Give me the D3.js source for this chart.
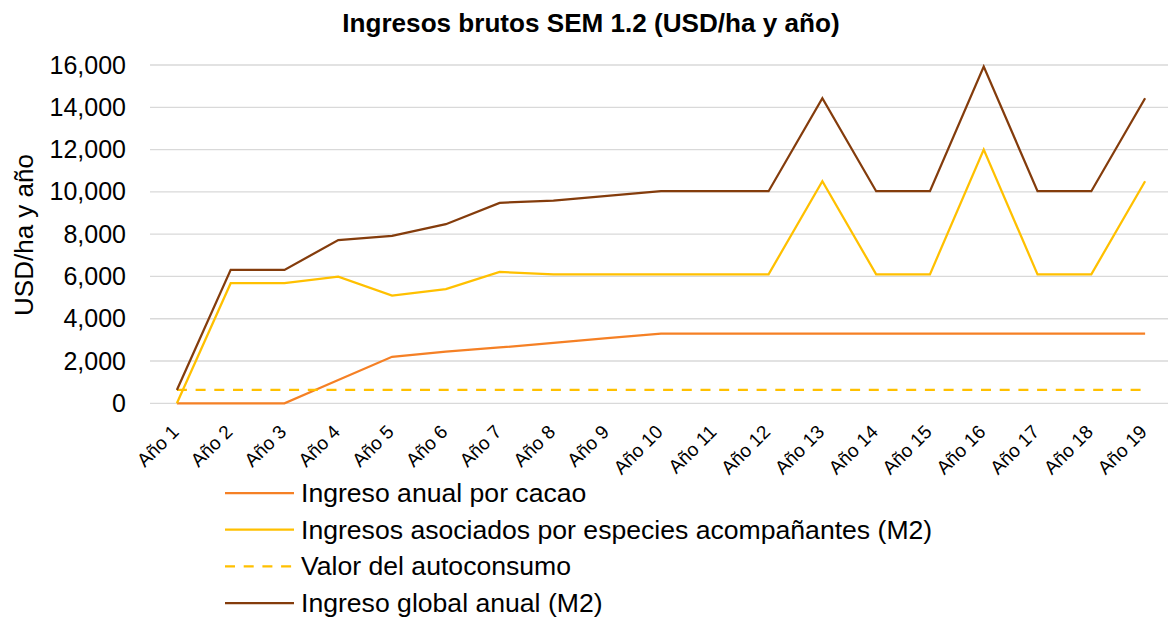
<!DOCTYPE html>
<html>
<head>
<meta charset="utf-8">
<script src="https://cdn.jsdelivr.net/npm/d3@7"></script>
<style>
  body { margin: 0; background: #fff; }
  text { font-family: Arial, "Liberation Sans", sans-serif; fill: #000; }
</style>
</head>
<body>
<svg id="chart" width="1168" height="618"></svg>
<script>
// datos
const years = ["Año 1","Año 2","Año 3","Año 4","Año 5","Año 6","Año 7","Año 8","Año 9","Año 10",
  "Año 11","Año 12","Año 13","Año 14","Año 15","Año 16","Año 17","Año 18","Año 19"];
const cacao = [0, 0, 0, 1100, 2200, 2440, 2640, 2860, 3080, 3300, 3300, 3300, 3300, 3300, 3300, 3300, 3300, 3300, 3300];
const especies = [0, 5680, 5680, 5990, 5090, 5400, 6210, 6100, 6100, 6100, 6100, 6100, 10500, 6100, 6100, 12000, 6100, 6100, 10500];
const autoconsumo = [630, 630, 630, 630, 630, 630, 630, 630, 630, 630, 630, 630, 630, 630, 630, 630, 630, 630, 630];
const global = [630, 6310, 6310, 7720, 7920, 8470, 9480, 9590, 9810, 10030, 10030, 10030, 14430, 10030, 10030, 15930, 10030, 10030, 14430];
const yTicks = [0, 2000, 4000, 6000, 8000, 10000, 12000, 14000, 16000];

const series = [
  { name: "Ingreso anual por cacao", values: cacao, color: "#F58025", dash: null },
  { name: "Ingresos asociados por especies acompañantes (M2)", values: especies, color: "#FFC000", dash: null },
  { name: "Valor del autoconsumo", values: autoconsumo, color: "#FFC000", dash: "10,8.7" },
  { name: "Ingreso global anual (M2)", values: global, color: "#843C0C", dash: null }
];

const svg = d3.select("#chart");

const x = d3.scalePoint().domain(years).range([150, 1172]).padding(0.5);
const y = d3.scaleLinear().domain([0, 16000]).range([403.3, 65]);

// titulo
svg.append("text")
  .attr("x", 591)
  .attr("y", 32)
  .attr("text-anchor", "middle")
  .style("font-size", "26.1px")
  .style("font-weight", "bold")
  .text("Ingresos brutos SEM 1.2 (USD/ha y año)");

// lineas de cuadricula
svg.append("g")
  .selectAll("line")
  .data(yTicks)
  .join("line")
  .attr("x1", 150)
  .attr("x2", 1172)
  .attr("y1", d => y(d))
  .attr("y2", d => y(d))
  .attr("stroke", "#D9D9D9")
  .attr("stroke-width", 1.3);

// eje Y
const yAxis = svg.append("g")
  .attr("transform", "translate(150,0)")
  .call(d3.axisLeft(y).tickValues(yTicks).tickFormat(d3.format(",")).tickSize(0).tickPadding(24));
yAxis.select(".domain").remove();
yAxis.selectAll("text")
  .style("font-size", "25px")
  .style("font-family", "Arial, 'Liberation Sans', sans-serif")
  .attr("fill", "#000");

svg.append("text")
  .attr("transform", "translate(33,235) rotate(-90)")
  .attr("text-anchor", "middle")
  .style("font-size", "26px")
  .text("USD/ha y año");

// eje X (etiquetas giradas)
svg.append("g")
  .selectAll("text")
  .data(years)
  .join("text")
  .attr("transform", d => `translate(${x(d) + 3},433) rotate(-45)`)
  .attr("text-anchor", "end")
  .style("font-size", "19px")
  .text(d => d);

// series
const line = d3.line()
  .x((d, i) => x(years[i]))
  .y(d => y(d));

svg.append("g")
  .selectAll("path")
  .data(series)
  .join("path")
  .attr("d", d => line(d.values))
  .attr("fill", "none")
  .attr("stroke", d => d.color)
  .attr("stroke-width", 2.25)
  .attr("stroke-dasharray", d => d.dash)
  .attr("stroke-linejoin", "miter");

// leyenda
const legend = svg.append("g")
  .selectAll("g")
  .data(series)
  .join("g")
  .attr("transform", (d, i) => `translate(0,${493 + i * 36.7})`);

legend.append("line")
  .attr("x1", 225)
  .attr("x2", 294)
  .attr("stroke", d => d.color)
  .attr("stroke-width", 2.25)
  .attr("stroke-dasharray", d => d.dash);

legend.append("text")
  .attr("x", 301)
  .attr("dy", "0.34em")
  .style("font-size", "26.6px")
  .text(d => d.name);
</script>
</body>
</html>
